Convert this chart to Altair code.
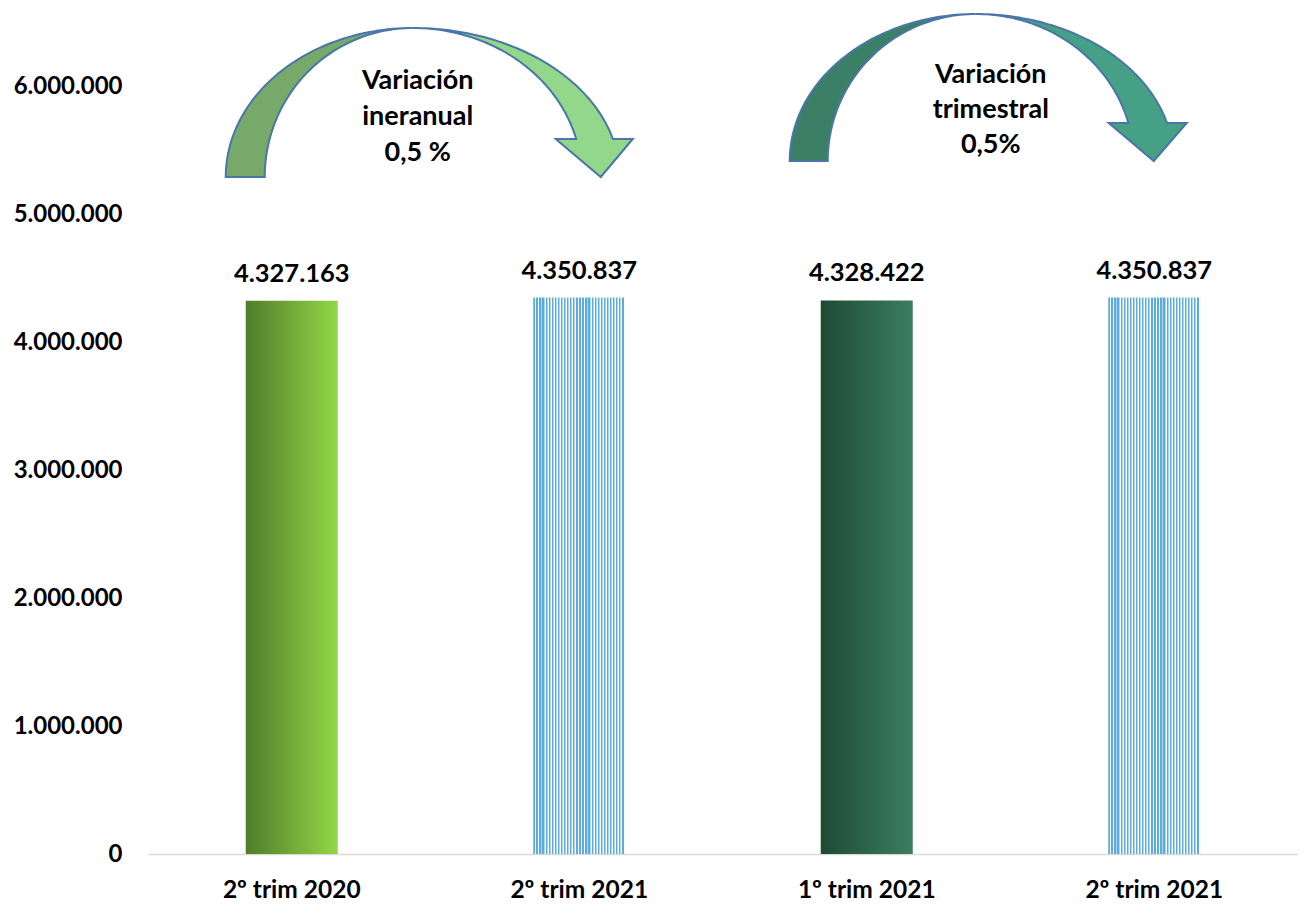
import altair as alt
import numpy as np
import pandas as pd

# ---- data ----
periods = ["2º trim 2020", "2º trim 2021", "1º trim 2021", "2º trim 2021"]
values = [4327163, 4350837, 4328422, 4350837]
styles = ["green", "stripe", "dark", "stripe"]
y_ticks = [0, 1000000, 2000000, 3000000, 4000000, 5000000, 6000000]
notes = ["Variación\nineranual\n0,5 %", "Variación\ntrimestral\n0,5%"]
note_anchor = [0, 2]  # bar index each annotation starts from

df = pd.DataFrame({
    "idx": list(range(len(values))),
    "value": values,
    "style": styles,
    "label": [f"{v:,}".replace(",", ".") for v in values],
})

FONT = "Lato"
W, H = 1150, 844

# ---- gradients ----
green_grad = alt.LinearGradient(
    gradient="linear", x1=0, x2=1, y1=0, y2=0,
    stops=[alt.GradientStop(offset=0, color="#507C2A"),
           alt.GradientStop(offset=1, color="#93D747")])
dark_grad = alt.LinearGradient(
    gradient="linear", x1=0, x2=1, y1=0, y2=0,
    stops=[alt.GradientStop(offset=0, color="#1E4A34"),
           alt.GradientStop(offset=1, color="#3B7E5E")])
stripe_stops = []
NSTRIPE = 30
for i in range(NSTRIPE):
    a = i / NSTRIPE
    d = 1 / NSTRIPE
    for off, col in [(a, "#5AACE0"), (a + 0.45 * d, "#5AACE0"),
                     (a + 0.45 * d, "#AED6F1"), (a + 0.7 * d, "#AED6F1"),
                     (a + 0.7 * d, "#FFFFFF"), (a + d, "#FFFFFF")]:
        stripe_stops.append(alt.GradientStop(offset=min(off, 1.0), color=col))
stripe_grad = alt.LinearGradient(gradient="linear", x1=0, x2=1, y1=0, y2=0,
                                 stops=stripe_stops)

label_expr = "[" + ",".join(f"'{p}'" for p in periods) + "][datum.value]"

x_enc = alt.X("idx:O",
              scale=alt.Scale(paddingInner=0.68, paddingOuter=0.34),
              axis=alt.Axis(title=None, labelExpr=label_expr, labelAngle=0,
                            ticks=False, grid=False, domainColor="#D9D9D9",
                            domainWidth=1.5, labelPadding=24,
                            labelFont=FONT, labelFontSize=24.5, labelFontWeight="bold",
                            labelColor="#000000"))
y_enc = alt.Y("value:Q",
              scale=alt.Scale(domain=[0, 6600000], nice=False),
              axis=alt.Axis(title=None, values=y_ticks, grid=False, ticks=False,
                            domain=False, labelPadding=26,
                            labelExpr="replace(replace(format(datum.value, ','), ',', '.'), ',', '.')",
                            labelFont=FONT, labelFontSize=24, labelFontWeight="bold",
                            labelColor="#000000", minExtent=135, maxExtent=135))

base = alt.Chart(df)
bar_green = base.transform_filter(alt.datum.style == "green").mark_bar(color=green_grad).encode(x=x_enc, y=y_enc)
bar_dark = base.transform_filter(alt.datum.style == "dark").mark_bar(color=dark_grad).encode(x=x_enc, y=y_enc)
bar_stripe = base.transform_filter(alt.datum.style == "stripe").mark_bar(color=stripe_grad).encode(x=x_enc, y=y_enc)
bar_labels = base.mark_text(font=FONT, fontSize=25.5, fontWeight="bold", color="#000000",
                            baseline="alphabetic", dy=-19).encode(x=x_enc, y=y_enc, text="label:N")


# ---- curved arrow decorations (pixel geometry relative to bar centre) ----
S = 100.0  # pixels per path unit -> size = (2*S)^2


def fmt(pts):
    return "M" + "L".join(f"{x / S:.4f},{y / S:.4f}" for x, y in pts) + "Z"


def arrow_paths(cx, rx_lo, rx_li, ry, rx_ro, rx_ri, base_dy, head_l, head_r, tip):
    t = np.radians(np.linspace(0, 90, 60))
    left = [(cx - rx_lo * np.cos(a), -ry * np.sin(a)) for a in t]
    left += [(cx - rx_li * np.cos(a), -ry * np.sin(a)) for a in t[::-1]]
    t_end = np.arcsin(base_dy / ry)
    t2 = np.linspace(np.pi / 2, t_end, 60)
    right = [(cx + rx_ro * np.cos(a), -ry * np.sin(a)) for a in t2]
    right += [(cx + head_r, -base_dy), (cx + tip, 0.0), (cx + head_l, -base_dy)]
    right += [(cx + rx_ri * np.cos(a), -ry * np.sin(a)) for a in t2[::-1]]
    return fmt(left), fmt(right)


a1_left, a1_right = arrow_paths(121, 187, 148, 149, 207, 169, 38, 143, 220, 188)
a2_left, a2_right = arrow_paths(109, 186, 148, 147, 198, 158, 38, 133, 211, 178)

ann = pd.DataFrame({"idx": note_anchor, "note": notes})
ann1 = alt.Chart(ann[ann.idx == note_anchor[0]])
ann2 = alt.Chart(ann[ann.idx == note_anchor[1]])

STROKE = "#4A76A8"


def shape_layer(src, path, fill, ypix):
    return src.mark_point(shape=path, size=(2 * S) ** 2, filled=True, fill=fill,
                          stroke=STROKE, strokeWidth=2, opacity=1, fillOpacity=1,
                          strokeOpacity=1).encode(x=x_enc, y=alt.value(ypix))


arrows = [
    shape_layer(ann1, a1_left, "#77A96B", 167),
    shape_layer(ann1, a1_right, "#92D78A", 167),
    shape_layer(ann2, a2_left, "#3A7F66", 151),
    shape_layer(ann2, a2_right, "#45A086", 151),
]

txt1 = ann1.mark_text(font=FONT, fontSize=27, fontWeight="bold", color="#000000",
                      lineBreak="\n", lineHeight=36, baseline="alphabetic",
                      align="center", dx=126).encode(x=x_enc, y=alt.value(79), text="note:N")
txt2 = ann2.mark_text(font=FONT, fontSize=27, fontWeight="bold", color="#000000",
                      lineBreak="\n", lineHeight=35, baseline="alphabetic",
                      align="center", dx=124).encode(x=x_enc, y=alt.value(73), text="note:N")

chart = alt.layer(bar_green, bar_stripe, bar_dark, bar_labels, *arrows, txt1, txt2).properties(
    width=W, height=H,
    background="#FFFFFF",
    padding={"left": 5, "top": 2, "right": 0, "bottom": 0},
).configure_view(stroke=None)

chart.save("out.html", embed_options={"renderer": "svg", "actions": False})
